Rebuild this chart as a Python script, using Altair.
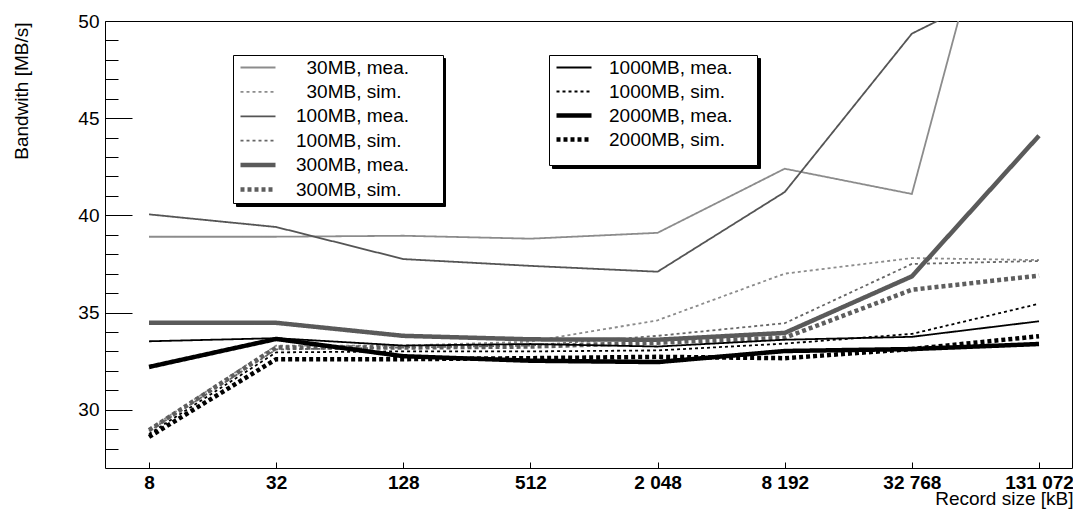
import altair as alt
import pandas as pd

# ---------------- data ----------------
record_size = [8, 32, 128, 512, 2048, 8192, 32768, 131072]

series_small = ["30MB, mea.", "30MB, sim.", "100MB, mea.", "100MB, sim.", "300MB, mea.", "300MB, sim."]
series_large = ["1000MB, mea.", "1000MB, sim.", "2000MB, mea.", "2000MB, sim."]

mea30 = [38.9, 38.9, 38.95, 38.8, 39.1, 42.4, 41.1, 65.5]
sim30 = [29.0, 33.3, 33.3, 33.5, 34.6, 37.0, 37.8, 37.7]
mea100 = [40.05, 39.4, 37.75, 37.4, 37.1, 41.2, 49.35, 52.6]
sim100 = [28.9, 33.1, 33.2, 33.3, 33.8, 34.45, 37.5, 37.65]
mea300 = [34.47, 34.47, 33.8, 33.62, 33.6, 33.95, 36.86, 44.1]
sim300 = [28.95, 33.2, 33.2, 33.25, 33.45, 33.7, 36.17, 36.9]
mea1000 = [33.52, 33.68, 33.3, 33.38, 33.25, 33.6, 33.75, 34.55]
sim1000 = [28.75, 32.95, 33.0, 33.0, 33.05, 33.4, 33.9, 35.45]
mea2000 = [32.2, 33.64, 32.75, 32.52, 32.45, 33.02, 33.12, 33.38]
sim2000 = [28.6, 32.6, 32.6, 32.65, 32.72, 32.65, 33.12, 33.78]

y_major = [30, 35, 40, 45, 50]
y_minor = [28, 29, 31, 32, 33, 34, 36, 37, 38, 39, 41, 42, 43, 44, 46, 47, 48, 49]

values_small = [mea30, sim30, mea100, sim100, mea300, sim300]
values_large = [mea1000, sim1000, mea2000, sim2000]


def long_table(names, arrays):
    rows = []
    for order, (name, vals) in enumerate(zip(names, arrays)):
        for s, v in zip(record_size, vals):
            rows.append({"series": name, "size": s, "value": v, "order": order})
    return pd.DataFrame(rows)


df_small = long_table(series_small, values_small)
df_large = long_table(series_large, values_large)
df_all = pd.concat([df_small, df_large], ignore_index=True)

# ---------------- styles ----------------
FONT = "Liberation Sans"
colors_small = ["#8c8c8c", "#8c8c8c", "#555555", "#666666", "#5a5a5a", "#5e5e5e"]
dash_small = [[1, 0], [3, 3], [1, 0], [3, 3], [1, 0], [4, 3]]
width_small = [1.8, 1.8, 1.8, 1.8, 4.5, 4.5]

colors_large = ["#000000", "#000000", "#000000", "#000000"]
dash_large = [[1, 0], [3, 3], [1, 0], [4, 3]]
width_large = [1.8, 1.8, 4.5, 4.5]

x_scale = alt.Scale(type="log", base=2, domain=[4.95, 187800], nice=False)
y_scale = alt.Scale(domain=[27, 50], nice=False, zero=False)

# label padding (non-breaking spaces kept between zero-width guards so they are not trimmed)
ZW = "\u200b"
NB = "\u00a0"
TH = "\u2009"
label_expr_small = ("(length(datum.label) < 11 ? '" + ZW + NB * 2 + "' : '') + datum.label + '"
                    + NB * 5 + TH + ZW + "'")
label_expr_large = "datum.label + '" + NB * 4 + ZW + "'"


def legend(x, y, row_pad, expr, label_offset, title=None, zindex=1):
    kw = dict(
        orient="none", legendX=x, legendY=y, direction="vertical",
        symbolType="stroke", symbolSize=1225, symbolOffset=2,
        labelOffset=label_offset, labelFont=FONT, labelFontSize=19,
        labelLimit=400, rowPadding=row_pad, clipHeight=19, padding=3,
        labelExpr=expr, zindex=zindex,
        fillColor="white", strokeColor="black", labelColor="black",
    )
    if title is not None:
        kw.update(title=title, titleOrient="bottom", titleFontSize=10, titlePadding=2, titleFont=FONT)
    else:
        kw.update(title=None)
    return alt.Legend(**kw)


def shadow_legend(x, y, row_pad, symbol_size, title=None):
    # black box of the same size, drawn 3px offset behind the legend (ROOT shadow)
    kw = dict(
        orient="none", legendX=x, legendY=y, direction="vertical",
        symbolType="stroke", symbolSize=symbol_size, symbolOffset=0,
        symbolStrokeColor="black", symbolStrokeWidth=4.5,
        labelOffset=0, labelExpr="''", labelFontSize=19,
        rowPadding=row_pad, clipHeight=19, padding=3, zindex=0,
        fillColor="black", strokeColor="black",
    )
    if title is not None:
        kw.update(title=title, titleOrient="bottom", titleFontSize=10, titlePadding=2, titleFont=FONT)
    else:
        kw.update(title=None)
    return alt.Legend(**kw)


# ---------------- tick layers (inward ticks, ROOT style) ----------------
ticks_major = alt.Chart(df_all).mark_line(opacity=0).encode(
    x=alt.X("size:Q", scale=x_scale,
            axis=alt.Axis(orient="bottom", offset=-6, tickSize=6, values=record_size,
                          labels=False, domain=False, grid=False, title=None,
                          tickColor="black", tickWidth=1)),
    y=alt.Y("value:Q", scale=y_scale,
            axis=alt.Axis(orient="left", offset=-27, tickSize=27, values=y_major,
                          labels=False, domain=False, grid=False, title=None,
                          tickColor="black", tickWidth=1)),
    detail="series:N",
)

ticks_minor = alt.Chart(df_all).mark_line(opacity=0).encode(
    x=alt.X("size:Q", scale=x_scale, axis=None),
    y=alt.Y("value:Q", scale=y_scale,
            axis=alt.Axis(orient="left", offset=-13, tickSize=13, values=y_minor,
                          labels=False, domain=False, grid=False, title=None,
                          tickColor="black", tickWidth=1)),
    detail="series:N",
)

# ---------------- data layers ----------------
leg_a = legend(128, 34, 4.4, label_expr_small, 18)
lines_small = alt.Chart(df_small).mark_line(clip=True).encode(
    x=alt.X("size:Q", scale=x_scale,
            axis=alt.Axis(orient="bottom", values=record_size, ticks=False, tickSize=0,
                          domain=False, grid=False, labelPadding=5,
                          labelExpr="replace(format(datum.value, ','), ',', ' ')",
                          labelFont=FONT, labelFontSize=19, labelFontWeight="bold",
                          labelColor="black", labelFlush=False,
                          title="Record size [kB]", titleFont=FONT, titleFontSize=19,
                          titleFontWeight="normal", titleColor="black",
                          titleAlign="right", titleBaseline="alphabetic",
                          titleX=968, titleY=36)),
    y=alt.Y("value:Q", scale=y_scale,
            axis=alt.Axis(orient="left", values=y_major, ticks=False, tickSize=0,
                          domain=False, grid=False, labelPadding=6,
                          labelFont=FONT, labelFontSize=19, labelColor="black",
                          title="Bandwith [MB/s]", titleFont=FONT, titleFontSize=19,
                          titleFontWeight="normal", titleColor="black",
                          titleAngle=-90, titleAlign="right", titleBaseline="alphabetic",
                          titleX=-78, titleY=1)),
    color=alt.Color("series:N", scale=alt.Scale(domain=series_small, range=colors_small), legend=leg_a),
    strokeDash=alt.StrokeDash("series:N", scale=alt.Scale(domain=series_small, range=dash_small), legend=leg_a),
    strokeWidth=alt.StrokeWidth("series:N", scale=alt.Scale(type="ordinal", domain=series_small, range=width_small), legend=leg_a),
    order="size:Q",
)

leg_b = legend(444, 34, 4, label_expr_large, 15, title="\u2007")
lines_large = alt.Chart(df_large).mark_line(clip=True).encode(
    x=alt.X("size:Q", scale=x_scale, axis=None),
    y=alt.Y("value:Q", scale=y_scale, axis=None),
    color=alt.Color("series:N", scale=alt.Scale(domain=series_large, range=colors_large), legend=leg_b),
    strokeDash=alt.StrokeDash("series:N", scale=alt.Scale(domain=series_large, range=dash_large), legend=leg_b),
    strokeWidth=alt.StrokeWidth("series:N", scale=alt.Scale(type="ordinal", domain=series_large, range=width_large), legend=leg_b),
    order="size:Q",
)

# ---------------- legend shadows ----------------
shadow_small = alt.Chart(df_small).mark_line(opacity=0).encode(
    x=alt.X("size:Q", scale=x_scale, axis=None),
    y=alt.Y("value:Q", scale=y_scale, axis=None),
    color=alt.Color("series:N", scale=alt.Scale(domain=series_small, range=["black"] * 6),
                    legend=shadow_legend(131, 37, 4.4, 198.5 ** 2)),
)
shadow_large = alt.Chart(df_large).mark_line(opacity=0).encode(
    x=alt.X("size:Q", scale=x_scale, axis=None),
    y=alt.Y("value:Q", scale=y_scale, axis=None),
    color=alt.Color("series:N", scale=alt.Scale(domain=series_large, range=["black"] * 4),
                    legend=shadow_legend(447, 37, 4, 197.5 ** 2, title="\u2007")),
)

chart = alt.layer(
    ticks_major, ticks_minor, lines_small, lines_large, shadow_small, shadow_large
).resolve_scale(
    color="independent", strokeDash="independent", strokeWidth="independent"
).resolve_axis(
    x="independent", y="independent"
).properties(
    width=967, height=447,
    autosize=alt.AutoSizeParams(type="none"),
    padding={"left": 97, "top": 13, "right": 1, "bottom": 41},
    background="white",
).configure_view(
    stroke="black", strokeWidth=1
)

chart.save("out.html", embed_options={"renderer": "svg", "actions": False})
